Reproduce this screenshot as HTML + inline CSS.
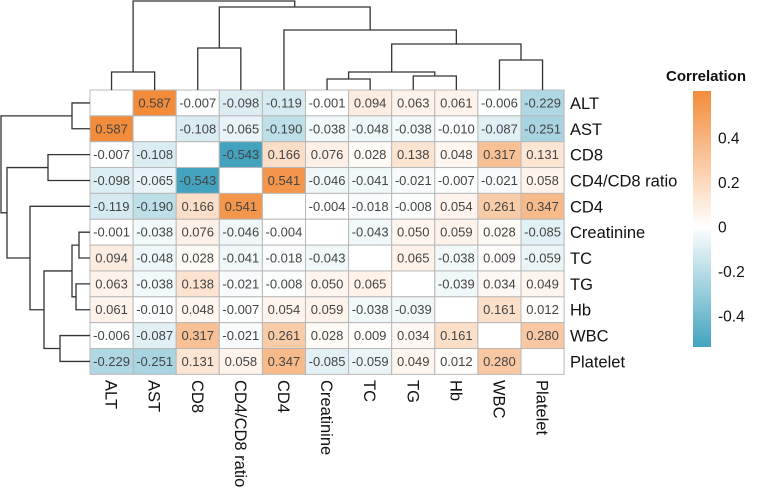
<!DOCTYPE html>
<html><head><meta charset="utf-8"><style>
html,body{margin:0;padding:0;background:#fff;}
svg{display:block;font-family:"Liberation Sans",Arial,sans-serif;}
</style></head><body>
<svg id="c" width="767" height="491" viewBox="0 0 767 491" xmlns="http://www.w3.org/2000/svg">
<defs><linearGradient id="lg" x1="0" y1="0" x2="0" y2="1">
<stop offset="0" stop-color="#F28C3B"/><stop offset="0.53" stop-color="#ffffff"/><stop offset="1" stop-color="#43A3BE"/></linearGradient></defs>
<g id="cells"></g>
<g id="dend" stroke="#333" stroke-width="1.3" fill="none"></g>
<g id="labels"></g>
<g>
<text x="666" y="81" font-size="15" font-weight="bold" fill="#111">Correlation</text>
<rect x="693" y="91" width="18" height="256" fill="url(#lg)"/>
<g id="leg"></g>
</g>
</svg>
<script>
const labels=["ALT","AST","CD8","CD4/CD8 ratio","CD4","Creatinine","TC","TG","Hb","WBC","Platelet"];
const row0=[null,0.587,-0.007,-0.098,-0.119,-0.001,0.094,0.063,0.061,-0.006,-0.229];
const row1=[0.587,null,-0.108,-0.065,-0.190,-0.038,-0.048,-0.038,-0.010,-0.087,-0.251];
const row2=[-0.007,-0.108,null,-0.543,0.166,0.076,0.028,0.138,0.048,0.317,0.131];
const row3=[-0.098,-0.065,-0.543,null,0.541,-0.046,-0.041,-0.021,-0.007,-0.021,0.058];
const row4=[-0.119,-0.190,0.166,0.541,null,-0.004,-0.018,-0.008,0.054,0.261,0.347];
const row5=[-0.001,-0.038,0.076,-0.046,-0.004,null,-0.043,0.050,0.059,0.028,-0.085];
const row6=[0.094,-0.048,0.028,-0.041,-0.018,-0.043,null,0.065,-0.038,0.009,-0.059];
const row7=[0.063,-0.038,0.138,-0.021,-0.008,0.050,0.065,null,-0.039,0.034,0.049];
const row8=[0.061,-0.010,0.048,-0.007,0.054,0.059,-0.038,-0.039,null,0.161,0.012];
const row9=[-0.006,-0.087,0.317,-0.021,0.261,0.028,0.009,0.034,0.161,null,0.280];
const row10=[-0.229,-0.251,0.131,0.058,0.347,-0.085,-0.059,0.049,0.012,0.280,null];
const matrix=[row0,row1,row2,row3,row4,row5,row6,row7,row8,row9,row10];
const legendTicks=[0.4,0.2,0,-0.2,-0.4];
const merges=[[[0,0],[1,1],18],[[2,2],[3,3],42],[[5,5],[6,6],11],[[7,7],[8,8],14],[[5,6],[7,8],18],[[9,9],[10,10],30],[[5,8],[9,10],46],[[4,4],[5,10],60],[[2,3],[4,10],83],[[0,1],[2,10],89]];

const NS="http://www.w3.org/2000/svg";
const X0=90,Y0=90,CW=43.1,RH=25.85,N=labels.length;
function mk(t,a,p){const e=document.createElementNS(NS,t);for(const k in a)e.setAttribute(k,a[k]);p.appendChild(e);return e;}
function mix(a,b,t){return a.map((v,i)=>Math.round(v+(b[i]-v)*t));}
function color(v){if(v==null)return"#fff";
  if(v>=0)return"rgb("+mix([255,255,255],[242,140,59],Math.min(1,v/0.587))+")";
  return"rgb("+mix([255,255,255],[67,163,190],Math.min(1,-v/0.543))+")";}
const cells=document.getElementById('cells');
for(let r=0;r<N;r++)for(let c=0;c<N;c++){
  const v=matrix[r][c];
  const rc=mk('rect',{x:X0+c*CW,y:Y0+r*RH,width:CW,height:RH,fill:color(v),stroke:"#b8b8b8","stroke-width":1},cells);
  
  
  if(v!=null){const t=mk('text',{x:X0+c*CW+CW/2,y:Y0+r*RH+RH/2+4.5,"text-anchor":"middle","font-size":13,fill:"#444"},cells);
    t.textContent=v.toFixed(3);
    
    }
}
const lab=document.getElementById('labels');
labels.forEach((l,i)=>{
  const t=mk('text',{x:570,y:Y0+i*RH+RH/2+6,"font-size":16.5,fill:"#111"},lab);t.textContent=l;
  
  
  const cx=X0+i*CW+CW/2-6;
  const u=mk('text',{x:cx,y:380,"font-size":16.5,fill:"#111",transform:"rotate(90 "+cx+" 380)"},lab);u.textContent=l;
  
  
});
const d=document.getElementById('dend');
const pos={};
function key(r){return r[0]+"-"+r[1];}
for(let i=0;i<N;i++)pos[i+"-"+i]={c:i+0.5,h:0};
merges.forEach(m=>{
  const a=pos[key(m[0])],b=pos[key(m[1])],h=m[2];
  const xa=X0+a.c*CW,xb=X0+b.c*CW,ya=Y0-a.h,yb=Y0-b.h,y=Y0-h;
  const p1=mk('path',{d:`M${xa},${ya}V${y}H${xb}V${yb}`},d);
  
  
  const ra=Y0+a.c*RH,rb=Y0+b.c*RH,xa2=X0-a.h,xb2=X0-b.h,x=X0-h;
  const p2=mk('path',{d:`M${xa2},${ra}H${x}V${rb}H${xb2}`},d);
  
  
  pos[m[0][0]+"-"+m[1][1]]={c:(a.c+b.c)/2,h:h};
});
const leg=document.getElementById('leg');
legendTicks.forEach(v=>{
  const y=227-v*223;
  const t=mk('text',{x:718,y:y+5.5,"font-size":15.5,fill:"#111"},leg);t.textContent=v===0?"0":String(v);
  
  
});
</script>
</body></html>
